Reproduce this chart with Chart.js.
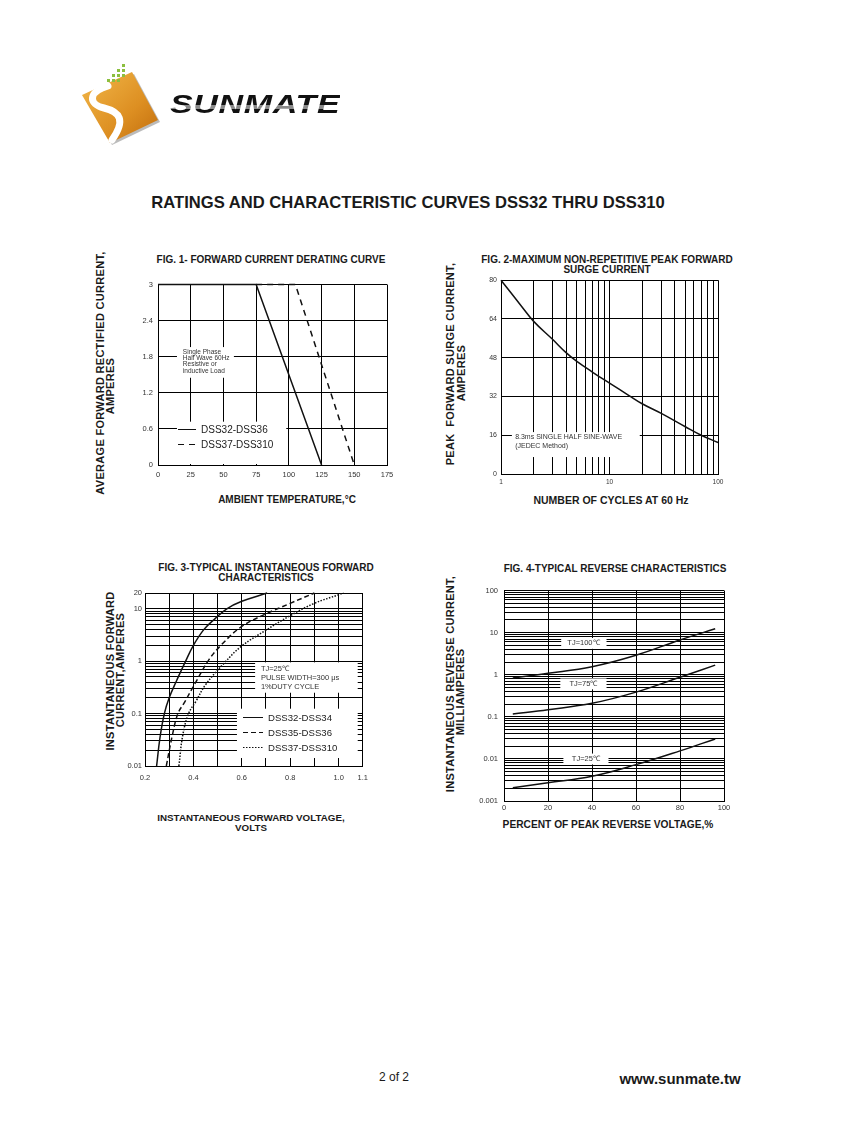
<!DOCTYPE html>
<html>
<head>
<meta charset="utf-8">
<script src="https://cdn.jsdelivr.net/npm/chart.js@4.4.1/dist/chart.umd.min.js"></script>
<style>
body { margin: 0; background: #fff; font-family: "Liberation Sans", Arial, sans-serif; color: #1a1a1a; }
#hoja { position: relative; width: 847px; height: 1125px; overflow: hidden; background: #fff; }
.t { position: absolute; white-space: nowrap; font-weight: bold; }
.c { transform: translate(-50%, -50%); text-align: center; }
.v { transform: translate(-50%, -50%) rotate(-90deg); text-align: center; }
canvas { position: absolute; }
#marca { position: absolute; left: 170px; top: 90px; font: italic bold 25px "Liberation Sans", Arial, sans-serif;
  transform: scaleX(1.36); transform-origin: left top; letter-spacing: 0.5px;
  background: linear-gradient(to bottom, #111 0 52%, #8a8a8a 52% 66%, #111 66%);
  -webkit-background-clip: text; background-clip: text; color: transparent; }
</style>
</head>
<body>
<div id="hoja">
  <!-- logo -->
  <svg style="position:absolute;left:75px;top:55px" width="95" height="100">
    <defs>
      <linearGradient id="naranja" x1="0" y1="0" x2="1" y2="1">
        <stop offset="0" stop-color="#f2b84a"/>
        <stop offset="0.6" stop-color="#dd8f22"/>
        <stop offset="1" stop-color="#c06c0c"/>
      </linearGradient>
    </defs>
    <polygon points="9,42 59,19 85,67 37,90" fill="#777" opacity="0.5"/>
    <polygon points="7,40 57,17 83,65 35,88" fill="url(#naranja)"/>
    <path d="M 33 31 C 13 37, 13 49, 29 53 S 51 65, 37 85" stroke="#fff" stroke-width="7" fill="none" stroke-linecap="round"/>
    <g fill="#8cbf3f">
      <rect x="47" y="9" width="3" height="3"/><rect x="42" y="14" width="3" height="3"/><rect x="47" y="14" width="3" height="3"/>
      <rect x="37" y="19" width="3" height="3"/><rect x="42" y="19" width="3" height="3"/><rect x="47" y="19" width="3" height="3"/>
      <rect x="32" y="24" width="3" height="3"/><rect x="37" y="24" width="3" height="3"/><rect x="42" y="24" width="3" height="3"/>
    </g>
  </svg>
  <div id="marca">SUNMATE</div>

  <div class="t c" style="left:408px;top:203px;font-size:16.6px;">RATINGS AND CHARACTERISTIC CURVES DSS32 THRU DSS310</div>

  <!-- FIG 1 -->
  <div class="t c" style="left:271px;top:259px;font-size:10px;">FIG. 1- FORWARD CURRENT DERATING CURVE</div>
  <div class="t v" style="left:100px;top:373px;font-size:11px;letter-spacing:0.3px;">AVERAGE FORWARD RECTIFIED CURRENT,</div>
  <div class="t v" style="left:110px;top:386px;font-size:11px;letter-spacing:0.3px;">AMPERES</div>
  <div class="t c" style="left:287px;top:499px;font-size:10px;">AMBIENT TEMPERATURE,°C</div>
  <canvas id="fig1" width="271" height="210" style="left:128px;top:275px;width:271px;height:210px;"></canvas>

  <!-- FIG 2 -->
  <div class="t c" style="left:607px;top:264px;font-size:10px;line-height:9.5px;">FIG. 2-MAXIMUM NON-REPETITIVE PEAK FORWARD<br>SURGE CURRENT</div>
  <div class="t v" style="left:450px;top:364px;font-size:11px;letter-spacing:0.3px;">PEAK&nbsp; FORWARD SURGE CURRENT,</div>
  <div class="t v" style="left:461px;top:373px;font-size:11px;letter-spacing:0.3px;">AMPERES</div>
  <div class="t c" style="left:611px;top:500px;font-size:10.5px;">NUMBER OF CYCLES AT 60 Hz</div>
  <canvas id="fig2" width="259" height="222" style="left:471px;top:272px;width:259px;height:222px;"></canvas>

  <!-- FIG 3 -->
  <div class="t c" style="left:266px;top:572px;font-size:10px;line-height:9.5px;">FIG. 3-TYPICAL INSTANTANEOUS FORWARD<br>CHARACTERISTICS</div>
  <div class="t v" style="left:110px;top:671px;font-size:11px;letter-spacing:0.3px;">INSTANTANEOUS FORWARD</div>
  <div class="t v" style="left:120px;top:670px;font-size:11px;letter-spacing:0.3px;">CURRENT,AMPERES</div>
  <div class="t c" style="left:251px;top:822px;font-size:9.8px;line-height:9.5px;">INSTANTANEOUS FORWARD VOLTAGE,<br>VOLTS</div>
  <canvas id="fig3" width="260" height="201" style="left:115px;top:585px;width:260px;height:201px;"></canvas>

  <!-- FIG 4 -->
  <div class="t c" style="left:615px;top:568px;font-size:10px;">FIG. 4-TYPICAL REVERSE CHARACTERISTICS</div>
  <div class="t v" style="left:450px;top:684px;font-size:11px;letter-spacing:0.3px;">INSTANTANEOUS REVERSE CURRENT,</div>
  <div class="t v" style="left:460px;top:692px;font-size:11px;letter-spacing:0.3px;">MILLIAMPERES</div>
  <div class="t c" style="left:608px;top:824px;font-size:10.2px;">PERCENT OF PEAK REVERSE VOLTAGE,%</div>
  <canvas id="fig4" width="262" height="241" style="left:474px;top:580px;width:262px;height:241px;"></canvas>

  <div class="t c" style="left:394px;top:1077px;font-size:12px;font-weight:normal;">2 of 2</div>
  <div class="t c" style="left:680px;top:1078px;font-size:15px;">www.sunmate.tw</div>
</div>

<script>
// FIG. 1 - derating
const fig1Temp36 = [0, 75, 125];
const fig1Amp36 = [3, 3, 0];
const fig1Temp310 = [75, 105, 150];
const fig1Amp310 = [3, 3, 0];
const fig1TicksX = [0, 25, 50, 75, 100, 125, 150, 175];
const fig1TicksY = [0, 0.6, 1.2, 1.8, 2.4, 3];

// FIG. 2 - surge
const fig2Ciclos = [1, 1.5, 2, 3, 4, 5, 7, 10, 15, 20, 30, 50, 70, 100];
const fig2Amp = [80, 70, 63, 55.5, 50, 46.5, 42, 37.5, 32.5, 29, 25, 19.5, 16, 13];
const fig2RejillaX = [1, 2, 3, 4, 5, 6, 7, 8, 9, 10, 20, 30, 40, 50, 60, 70, 80, 90, 100];
const fig2EtiqX = [1, 10, 100];
const fig2TicksY = [0, 16, 32, 48, 64, 80];

// FIG. 3 - forward characteristics
const fig3Volt34 = [0.248, 0.262, 0.28, 0.30, 0.329, 0.368, 0.40, 0.443, 0.49, 0.538, 0.60, 0.705];
const fig3Amp34 = [0.01, 0.035, 0.1, 0.2, 0.41, 1, 2, 4, 6.5, 10, 13.9, 20];
const fig3Volt36 = [0.288, 0.313, 0.336, 0.362, 0.41, 0.465, 0.516, 0.60, 0.70, 0.80, 0.90];
const fig3Amp36 = [0.01, 0.0385, 0.1, 0.16, 0.4, 1.08, 2.06, 4.6, 8, 12.7, 20];
const fig3Volt310 = [0.34, 0.356, 0.38, 0.41, 0.45, 0.53, 0.60, 0.70, 0.80, 0.90, 1.0, 1.02];
const fig3Amp310 = [0.01, 0.0385, 0.1, 0.17, 0.354, 0.95, 1.95, 3.9, 7.4, 12.7, 18.5, 20];
const fig3RejillaX = [0.2, 0.3, 0.4, 0.5, 0.6, 0.7, 0.8, 0.9, 1.0, 1.1];
const fig3EtiqX = [0.2, 0.4, 0.6, 0.8, 1.0, 1.1];
const fig3RejillaY = [0.01, 0.02, 0.03, 0.04, 0.05, 0.06, 0.07, 0.08, 0.09,
  0.1, 0.2, 0.3, 0.4, 0.5, 0.6, 0.7, 0.8, 0.9, 1, 2, 3, 4, 5, 6, 7, 8, 9, 10, 20];
const fig3EtiqY = [0.01, 0.1, 1, 10, 20];

// FIG. 4 - reverse characteristics
const fig4Pct = [4, 20, 40, 60, 80, 96];
const fig4mA100 = [0.84, 1.08, 1.55, 2.9, 6.7, 12.3];
const fig4mA75 = [0.117, 0.148, 0.209, 0.385, 0.87, 1.69];
const fig4mA25 = [0.00206, 0.0027, 0.00387, 0.0073, 0.0155, 0.0297];
const fig4RejillaX = [0, 20, 40, 60, 80, 100];
const fig4RejillaY = [0.001, 0.002, 0.003, 0.004, 0.005, 0.006, 0.007, 0.008, 0.009,
  0.01, 0.02, 0.03, 0.04, 0.05, 0.06, 0.07, 0.08, 0.09,
  0.1, 0.2, 0.3, 0.4, 0.5, 0.6, 0.7, 0.8, 0.9,
  1, 2, 3, 4, 5, 6, 7, 8, 9, 10, 20, 30, 40, 50, 60, 70, 80, 90, 100];
const fig4EtiqY = [0.001, 0.01, 0.1, 1, 10, 100];

Chart.defaults.font.family = '"Liberation Sans", Arial, sans-serif';
Chart.defaults.color = '#333';
Chart.defaults.animation = false;
Chart.defaults.plugins.legend.display = false;
Chart.defaults.plugins.tooltip.enabled = false;

const FUENTE = '"Liberation Sans", Arial, sans-serif';

// cajas blancas, textos y leyenda dentro del area del grafico
const notas = {
  id: 'notas',
  beforeDatasetsDraw(chart, args, opts) {
    const { ctx, chartArea: a } = chart;
    const px = v => chart.scales.x.getPixelForValue(v);
    const py = v => chart.scales.y.getPixelForValue(v);
    ctx.save();
    ctx.beginPath();
    ctx.rect(a.left + 1, a.top + 1, a.width - 2, a.height - 2);
    ctx.clip();
    ctx.fillStyle = '#fff';
    (opts.cajas || []).forEach(c => {
      const x0 = px(c[0]), x1 = px(c[1]), y0 = py(c[2]), y1 = py(c[3]);
      ctx.fillRect(Math.min(x0, x1), Math.min(y0, y1), Math.abs(x1 - x0), Math.abs(y1 - y0));
    });
    (opts.textos || []).forEach(t => {
      ctx.font = t.fuente + ' ' + FUENTE;
      ctx.fillStyle = '#333';
      ctx.textAlign = t.alinear || 'left';
      ctx.textBaseline = 'middle';
      t.lineas.forEach((l, i) => ctx.fillText(l, px(t.x), py(t.y) + i * t.alto));
    });
    const ley = opts.leyenda;
    if (ley) {
      chart.data.datasets.forEach((d, i) => {
        const x0 = px(ley.x), y0 = Math.round(py(ley.y) + i * ley.paso) + 0.5;
        ctx.setLineDash(d.borderDash || []);
        ctx.lineWidth = 1;
        ctx.strokeStyle = '#111';
        ctx.beginPath();
        ctx.moveTo(x0, y0);
        ctx.lineTo(x0 + ley.largo, y0);
        ctx.stroke();
        ctx.setLineDash([]);
        ctx.font = ley.fuente + ' ' + FUENTE;
        ctx.fillStyle = '#222';
        ctx.textAlign = 'left';
        ctx.textBaseline = 'middle';
        ctx.fillText(d.label, x0 + ley.largo + ley.hueco, y0 + 0.5);
      });
    }
    ctx.restore();
  }
};

function eje(o) {
  return {
    type: o.tipo,
    position: o.pos,
    min: o.min,
    max: o.max,
    afterBuildTicks: s => { s.ticks = o.rejilla.map(v => ({ value: v })); },
    afterFit: s => { if (o.pos === 'left') s.width = 30; else s.height = 20; },
    grid: { color: '#000', lineWidth: 1, drawTicks: false },
    border: { color: '#000', width: 1 },
    ticks: {
      autoSkip: false, maxRotation: 0, minRotation: 0,
      padding: o.pad, font: { size: o.tam }, color: '#333',
      callback: v => o.etiquetas.includes(v) ? o.fmt(v) : ''
    }
  };
}

const puntos = (xs, ys) => xs.map((x, i) => ({ x: x, y: ys[i] }));

function serie(label, xs, ys, dash, curva) {
  return {
    label: label,
    data: puntos(xs, ys),
    borderColor: '#111',
    borderWidth: 1.5,
    borderDash: dash,
    pointRadius: 0,
    fill: false,
    clip: 2,
    tension: curva ? 0.4 : 0
  };
}

function grafico(id, datasets, ejeX, ejeY, opcNotas) {
  return new Chart(document.getElementById(id), {
    type: 'line',
    data: { datasets: datasets },
    options: {
      responsive: false,
      layout: { padding: { top: 8, right: 12, left: 0, bottom: 0 } },
      scales: { x: ejeX, y: ejeY },
      plugins: { notas: opcNotas }
    },
    plugins: [notas]
  });
}

grafico('fig1',
  [serie('DSS32-DSS36', fig1Temp36, fig1Amp36, [], false),
   serie('DSS37-DSS310', fig1Temp310, fig1Amp310, [6, 5], false)],
  eje({ tipo: 'linear', pos: 'bottom', min: 0, max: 175, rejilla: fig1TicksX, etiquetas: fig1TicksX, fmt: v => String(v), pad: 5, tam: 7.5 }),
  eje({ tipo: 'linear', pos: 'left', min: 0, max: 3, rejilla: fig1TicksY, etiquetas: fig1TicksY, fmt: v => String(v), pad: 5, tam: 7.5 }),
  {
    cajas: [[14.5, 58, 1.96, 1.45], [14.5, 98, 0, 0.72]],
    textos: [{ x: 19, y: 1.88, alto: 6.3, fuente: '6.5px', lineas: ['Single Phase', 'Half Wave 60Hz', 'Resistive or', 'inductive Load'] }],
    leyenda: { x: 15.3, y: 0.6, paso: 15, largo: 18, hueco: 5, fuente: '10px' }
  });

grafico('fig2',
  [serie('IFSM', fig2Ciclos, fig2Amp, [], true)],
  eje({ tipo: 'logarithmic', pos: 'bottom', min: 1, max: 100, rejilla: fig2RejillaX, etiquetas: fig2EtiqX, fmt: v => String(v), pad: 4, tam: 6.5 }),
  eje({ tipo: 'linear', pos: 'left', min: 0, max: 80, rejilla: fig2TicksY, etiquetas: fig2TicksY, fmt: v => String(v), pad: 4, tam: 7 }),
  {
    cajas: [[1.26, 19, 17.3, 7]],
    textos: [{ x: 1.35, y: 15.3, alto: 9, fuente: '7px', lineas: ['8.3ms SINGLE HALF SINE-WAVE', '(JEDEC Method)'] }]
  });

grafico('fig3',
  [serie('DSS32-DSS34', fig3Volt34, fig3Amp34, [], true),
   serie('DSS35-DSS36', fig3Volt36, fig3Amp36, [5, 3], true),
   serie('DSS37-DSS310', fig3Volt310, fig3Amp310, [1.5, 1.5], true)],
  eje({ tipo: 'linear', pos: 'bottom', min: 0.2, max: 1.1, rejilla: fig3RejillaX, etiquetas: fig3EtiqX, fmt: v => v.toFixed(1), pad: 7, tam: 7.5 }),
  eje({ tipo: 'logarithmic', pos: 'left', min: 0.01, max: 20, rejilla: fig3RejillaY, etiquetas: fig3EtiqY, fmt: v => String(v), pad: 3, tam: 7.5 }),
  {
    cajas: [[0.655, 1.079, 0.95, 0.25], [0.58, 1.079, 0.124, 0.0142]],
    textos: [{ x: 0.679, y: 0.727, alto: 9, fuente: '7.5px', lineas: ['TJ=25\u2103', 'PULSE WIDTH=300 \u03bcs', '1%DUTY CYCLE'] }],
    leyenda: { x: 0.605, y: 0.087, paso: 15, largo: 20, hueco: 5, fuente: '9.6px' }
  });

grafico('fig4',
  [serie('TJ=100\u2103', fig4Pct, fig4mA100, [], true),
   serie('TJ=75\u2103', fig4Pct, fig4mA75, [], true),
   serie('TJ=25\u2103', fig4Pct, fig4mA25, [], true)],
  eje({ tipo: 'linear', pos: 'bottom', min: 0, max: 100, rejilla: fig4RejillaX, etiquetas: fig4RejillaX, fmt: v => String(v), pad: 2, tam: 7.5 }),
  eje({ tipo: 'logarithmic', pos: 'left', min: 0.001, max: 100, rejilla: fig4RejillaY, etiquetas: fig4EtiqY, fmt: v => String(v), pad: 6, tam: 7.5 }),
  {
    cajas: [[26, 46.6, 7.46, 4.12], [25.6, 46.6, 0.815, 0.45], [27, 47.5, 0.0134, 0.0074]],
    textos: [
      { x: 36.1, y: 5.7, alto: 0, alinear: 'center', fuente: '7.5px', lineas: ['TJ=100\u2103'] },
      { x: 36.1, y: 0.605, alto: 0, alinear: 'center', fuente: '7.5px', lineas: ['TJ=75\u2103'] },
      { x: 37.2, y: 0.00995, alto: 0, alinear: 'center', fuente: '7.5px', lineas: ['TJ=25\u2103'] }
    ]
  });
</script>
</body>
</html>
